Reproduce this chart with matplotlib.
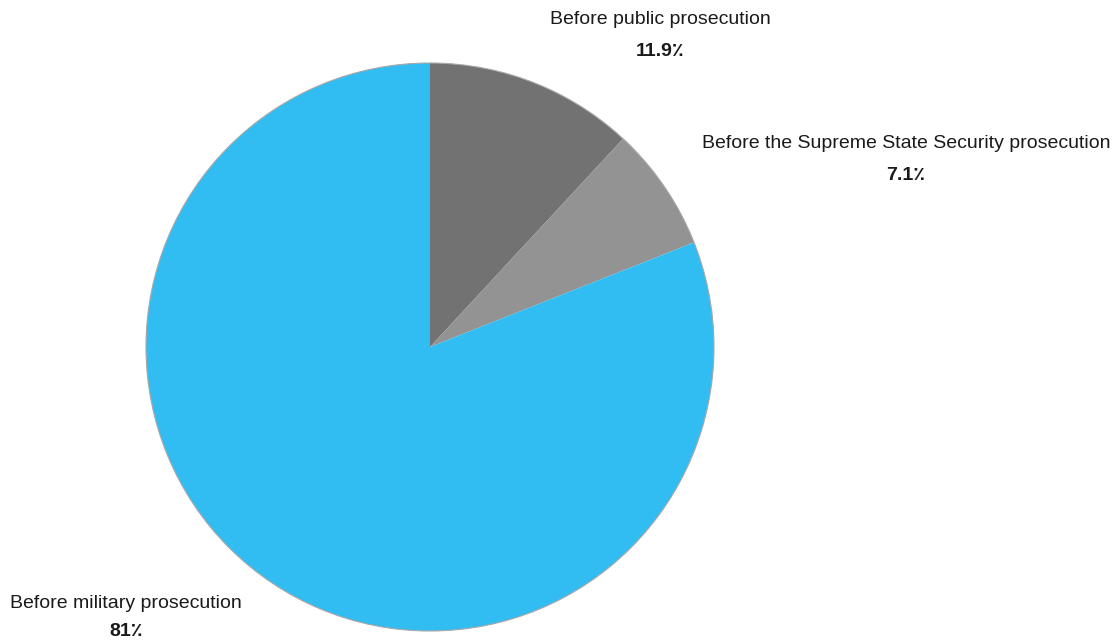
import matplotlib.pyplot as plt
from matplotlib.patches import Circle

plt.rcParams['font.family'] = ['Liberation Sans', 'DejaVu Sans']

labels = ['Before public prosecution', 'Before the Supreme State Security prosecution', 'Before military prosecution']
shares = [11.9, 7.1, 81]
colors = ['#727272', '#939393', '#32bdf2']

fig = plt.figure(figsize=(11.15, 6.41), dpi=100)
W, H = 1115, 641
cx, cy, r = 430, 347, 284
ax = fig.add_axes([(cx - r) / W, (H - cy - r) / H, 2 * r / W, 2 * r / H])

ax.pie(shares, colors=colors, startangle=90, counterclock=False,
       wedgeprops=dict(edgecolor='none', linewidth=0))
ax.add_patch(Circle((0, 0), 1, fill=False, edgecolor='#a8a8a8', lw=0.8, clip_on=False))
ax.set_xlim(-1, 1)
ax.set_ylim(-1, 1)
ax.set_aspect('equal')
ax.axis('off')

# label positions (pixels) for the name line and the value line
label_pos = [(660, 20, 52), (906, 143, 175), (126, 603, 631)]
for name, val, (px, py1, py2) in zip(labels, shares, label_pos):
    x = (px - cx) / r
    ax.text(x, (cy - py1) / r, name, ha='center', va='center', fontsize=14,
            color='#1a1a1a', clip_on=False)
    ax.text(x, (cy - py2) / r, f'{val:g}\u066a', ha='center', va='center', fontsize=14,
            fontweight='bold', color='#1a1a1a', clip_on=False)

fig.savefig('out.png', dpi=100)
